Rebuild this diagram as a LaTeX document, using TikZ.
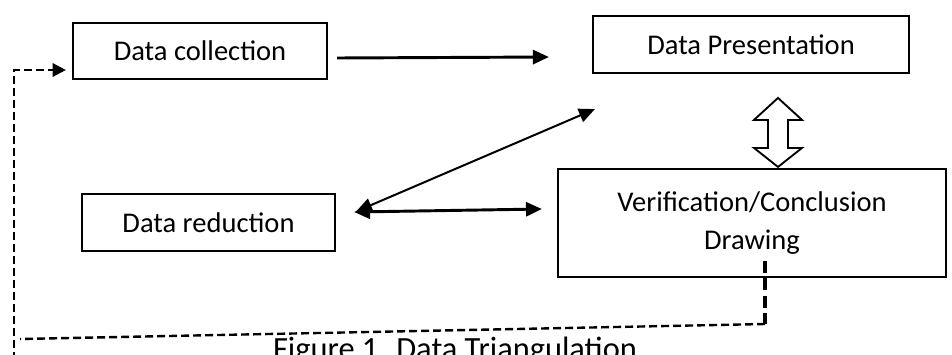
\documentclass[tikz,border=0pt]{standalone}
\usepackage{fontspec}
\setmainfont{Carlito}
\usepackage{tikz}
\usetikzlibrary{
  arrows.meta,
  positioning,
  calc
}

\tikzset{
  stage/.style={draw, line width=1.6pt, inner sep=0pt, align=center,
    font=\fontsize{21.4}{28.5}\selectfont},
  flow/.style={line width=2.2pt, -{Triangle[length=12pt,width=10.5pt]}},
  twoway/.style={line width=2.2pt,
    {Triangle[length=12pt,width=10.5pt]}-{Triangle[length=12pt,width=10.5pt]}},
  feedback/.style={line width=1.8pt, dash pattern=on 6pt off 3pt},
  hollow/.style={draw, line width=1.4pt, fill=white, line join=miter}
}

\begin{document}
\begin{tikzpicture}[x=0.75pt,y=-0.75pt]
  \useasboundingbox (0,0) rectangle (952,354);

  % the four stages
  \node[stage, minimum width=190.5pt, minimum height=42pt] (coll) at (200,51) {Data collection};
  \node[stage, minimum width=237pt, minimum height=42.75pt] (pres) at (751,44.5) {Data Presentation};
  \node[stage, minimum width=189.75pt, minimum height=42.75pt] (red) at (208.5,222.5) {Data reduction};
  \node[stage, minimum width=291pt, minimum height=81pt] (ver) at (752,223) {Verification/Conclusion\\Drawing};

  % solid links
  \draw[flow] ($(coll.east)+(9,7)$) -- ($(pres.west)+(-43,12.5)$);
  \draw[twoway] ($(red.east)+(18,-10.5)$) -- ($(ver.west)+(-15,-14)$);
  \draw[twoway, line width=1.5pt] ($(red.east)+(20,-11)$) -- ($(pres.south west)+(3,35)$);

  % hollow double arrow between presentation and conclusion
  \draw[hollow] ($(ver.north)+(26,-1)$) -- ++(-24,-19) -- ++(14,0) -- ++(0,-28)
    -- ++(-14,0) -- ++(24,-22) -- ++(24,22) -- ++(-14,0) -- ++(0,28) -- ++(14,0) -- cycle;

  % dashed loop back to collection
  \coordinate (fbtop) at ($(ver.south)+(13,-17)$);
  \coordinate (fbturn) at (765,324);
  \coordinate (fbleft) at (20,339);
  \coordinate (fbbase) at (14,360);
  \coordinate (fbcorner) at (14,70);
  \draw[line width=2.6pt, dash pattern=on 9pt off 4pt] (fbtop) -- (fbturn);
  \draw[feedback] (fbturn) -- (fbleft);
  \draw[feedback, -{Triangle[length=10pt,width=10pt]}]
    (fbbase) -- (fbcorner) -- ($(coll.west)+(-6,19)$);

  \node[anchor=base, font=\fontsize{24.3}{29}\selectfont] (cap) at (455,359)
    {Figure 1. Data Triangulation};
\end{tikzpicture}
\end{document}
